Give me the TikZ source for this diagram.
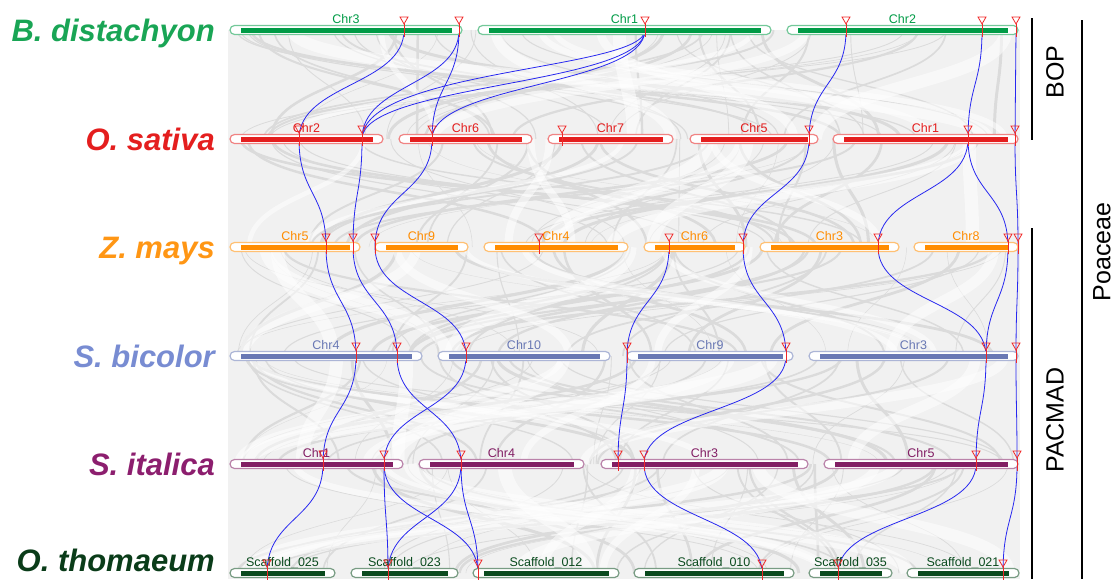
\documentclass[tikz,border=0pt]{standalone}
\usepackage{fontspec}
\setmainfont{Liberation Sans}
\definecolor{cgreen}{RGB}{0,155,70}
\definecolor{tgreen}{RGB}{25,165,85}
\definecolor{cred}{RGB}{228,30,30}
\definecolor{corange}{RGB}{255,140,0}
\definecolor{torange}{RGB}{255,150,20}
\definecolor{cbic}{RGB}{105,120,180}
\definecolor{tbic}{RGB}{120,140,210}
\definecolor{cita}{RGB}{130,30,100}
\definecolor{tita}{RGB}{140,30,110}
\definecolor{cthom}{RGB}{10,75,30}
\definecolor{tthom}{RGB}{10,60,25}
\definecolor{mkred}{RGB}{240,40,40}
\definecolor{linkblue}{RGB}{40,40,240}
\newcommand\chromo[6]{%
  \node[chrlbl, text=#5] (#1) at ({(#2+#3)/2}, #4-7) {#6};
  \draw[#5!55, line width=1.2pt, fill=white, rounded corners=4.5pt] (#2,#4-4.5) rectangle (#3,#4+4.5);
  \fill[#5] (#2+11,#4-2.5) rectangle (#3-10,#4+2.5);
}
\newcommand\mkdraw[1]{%
  \draw[mkred, line width=0.9pt] ([shift={(0,-6)}]#1) -- ([shift={(0,7)}]#1);
  \draw[mkred, line width=0.8pt] ([shift={(-4,-13)}]#1) -- ([shift={(4,-13)}]#1) -- ([shift={(0,-6)}]#1) -- cycle;
}
\begin{document}
\begin{tikzpicture}[x=1pt,y=-1pt,
  chrlbl/.style={anchor=base, inner sep=0pt, font=\fontsize{12.5}{12.5}\selectfont},
  species/.style={anchor=base east, inner sep=0pt, font=\fontsize{31}{31}\selectfont\bfseries\itshape},
  grp/.style={rotate=90, inner sep=0pt, font=\fontsize{25}{25}\selectfont},
  link/.style={linkblue, line width=0.8pt},
  bracket/.style={black, line width=1.3pt}]
\useasboundingbox (0,0) rectangle (1118,579);
% background synteny texture
\fill[gray!11] (228,30) rectangle (1020,579);
\pgfmathsetseed{11}
\foreach \ya/\yb in {30/139,139/247,247/356,356/464,464/573}{
  \foreach \i in {1,...,45}{
    \pgfmathsetmacro\xa{236+778*rnd}
    \pgfmathsetmacro\xb{236+778*rnd}
    \pgfmathsetmacro\w{0.3+2.8*rnd}
    \draw[gray!28, line width=\w pt] (\xa,\ya) .. controls (\xa,{(\ya+\yb)/2}) and (\xb,{(\ya+\yb)/2}) .. (\xb,\yb);
  }
}
\foreach \ya/\yb in {30/139,139/247,247/356,356/464,464/573}{
  \foreach \i in {1,...,10}{
    \pgfmathsetmacro\xa{236+778*rnd}
    \pgfmathsetmacro\xb{236+778*rnd}
    \pgfmathsetmacro\w{4+10*rnd}
    \draw[white, opacity=0.55, line width=\w pt] (\xa,\ya) .. controls (\xa,{(\ya+\yb)/2}) and (\xb,{(\ya+\yb)/2}) .. (\xb,\yb);
  }
}
% marker positions
\coordinate (a1) at (404,30); \coordinate (a2) at (459,30); \coordinate (a3) at (645,30);
\coordinate (a4) at (846,30); \coordinate (a5) at (982,30); \coordinate (a6) at (1016,30);
\coordinate (b1) at (299,139); \coordinate (b2) at (362,139); \coordinate (b3) at (432,139);
\coordinate (b4) at (562,139); \coordinate (b5) at (809,139); \coordinate (b6) at (968,139);
\coordinate (b7) at (1015,139);
\coordinate (c1) at (326,247); \coordinate (c2) at (353,247); \coordinate (c3) at (375,247);
\coordinate (c4) at (539,247); \coordinate (c5) at (669,247); \coordinate (c6) at (743,247);
\coordinate (c7) at (878,247); \coordinate (c8) at (1008,247); \coordinate (c9) at (1018,247);
\coordinate (d1) at (356,356); \coordinate (d2) at (397,356); \coordinate (d3) at (466,356);
\coordinate (d4) at (627,356); \coordinate (d5) at (786,356); \coordinate (d6) at (986,356);
\coordinate (d7) at (1016,356);
\coordinate (e1) at (323,464); \coordinate (e2) at (384,464); \coordinate (e3) at (461,464);
\coordinate (e4) at (618,464); \coordinate (e5) at (644,464); \coordinate (e6) at (976,464);
\coordinate (e7) at (1017,464);
\coordinate (f1) at (267,573); \coordinate (f2) at (388,573); \coordinate (f3) at (478,573);
\coordinate (f4) at (762,573); \coordinate (f5) at (838,573); \coordinate (f6) at (1003,573);
% blue links
\foreach \p/\q in {a1/b1,a2/b2,a2/b3,a3/b2,a3/b3,a4/b5,a5/b6,a6/b7,
  b1/c1,b2/c2,b3/c3,b5/c6,b6/c7,b6/c8,b7/c9,
  c1/d1,c2/d2,c3/d3,c5/d4,c6/d5,c7/d6,c8/d6,c9/d7,
  d1/e1,d2/e3,d3/e2,d4/e4,d5/e5,d6/e6,d7/e7,
  e1/f1,e2/f2,e2/f3,e3/f2,e3/f3,e5/f4,e6/f5,e7/f6}{
  \draw[link] (\p) .. controls +(0,55) and +(0,-55) .. (\q);
}
\draw[link] (a3) .. controls +(0,40) and +(0,-70) .. (b2);
% chromosomes
\chromo{bd3}{230}{462}{30}{cgreen}{Chr3}
\chromo{bd1}{478}{771}{30}{cgreen}{Chr1}
\chromo{bd2}{787}{1018}{30}{cgreen}{Chr2}
\chromo{os2}{230}{383}{139}{cred}{Chr2}
\chromo{os6}{399}{532}{139}{cred}{Chr6}
\chromo{os7}{548}{673}{139}{cred}{Chr7}
\chromo{os5}{690}{818}{139}{cred}{Chr5}
\chromo{os1}{833}{1018}{139}{cred}{Chr1}
\chromo{zm5}{230}{360}{247}{corange}{Chr5}
\chromo{zm9}{375}{468}{247}{corange}{Chr9}
\chromo{zm4}{484}{628}{247}{corange}{Chr4}
\chromo{zm6}{644}{745}{247}{corange}{Chr6}
\chromo{zm3}{760}{899}{247}{corange}{Chr3}
\chromo{zm8}{914}{1018}{247}{corange}{Chr8}
\chromo{sb4}{230}{422}{356}{cbic}{Chr4}
\chromo{sb10}{438}{610}{356}{cbic}{Chr10}
\chromo{sb9}{627}{793}{356}{cbic}{Chr9}
\chromo{sb3}{809}{1018}{356}{cbic}{Chr3}
\chromo{si1}{230}{403}{464}{cita}{Chr1}
\chromo{si4}{419}{584}{464}{cita}{Chr4}
\chromo{si3}{601}{808}{464}{cita}{Chr3}
\chromo{si5}{824}{1018}{464}{cita}{Chr5}
\chromo{ot25}{230}{335}{573}{cthom}{Scaffold\_025}
\chromo{ot23}{351}{458}{573}{cthom}{Scaffold\_023}
\chromo{ot12}{473}{619}{573}{cthom}{Scaffold\_012}
\chromo{ot10}{634}{794}{573}{cthom}{Scaffold\_010}
\chromo{ot35}{809}{892}{573}{cthom}{Scaffold\_035}
\chromo{ot21}{907}{1019}{573}{cthom}{Scaffold\_021}
% markers
\foreach \m in {a1,a2,a3,a4,a5,a6,b1,b2,b3,b4,b5,b6,b7,c1,c2,c3,c4,c5,c6,c7,c8,c9,
  d1,d2,d3,d4,d5,d6,d7,e1,e2,e3,e4,e5,e6,e7,f1,f2,f3,f4,f5,f6}{\mkdraw{\m}}
% species labels
\node[species, text=tgreen] (bdis) at (215,41) {B. distachyon};
\node[species, text=cred] (osat) at (215,150) {O. sativa};
\node[species, text=torange] (zmay) at (215,258) {Z. mays};
\node[species, text=tbic] (sbic) at (215,367) {S. bicolor};
\node[species, text=tita] (sita) at (215,475) {S. italica};
\node[species, text=tthom] (otho) at (215,571) {O. thomaeum};
% groups
\draw[bracket] (1032,18) -- (1032,140);
\draw[bracket] (1032,228) -- (1032,579);
\draw[bracket] (1082,20) -- (1082,579);
\node[grp] (bop) at (1055,72) {BOP};
\node[grp] (pac) at (1055,420) {PACMAD};
\node[grp] (poa) at (1102,252) {Poaceae};
\end{tikzpicture}
\end{document}
